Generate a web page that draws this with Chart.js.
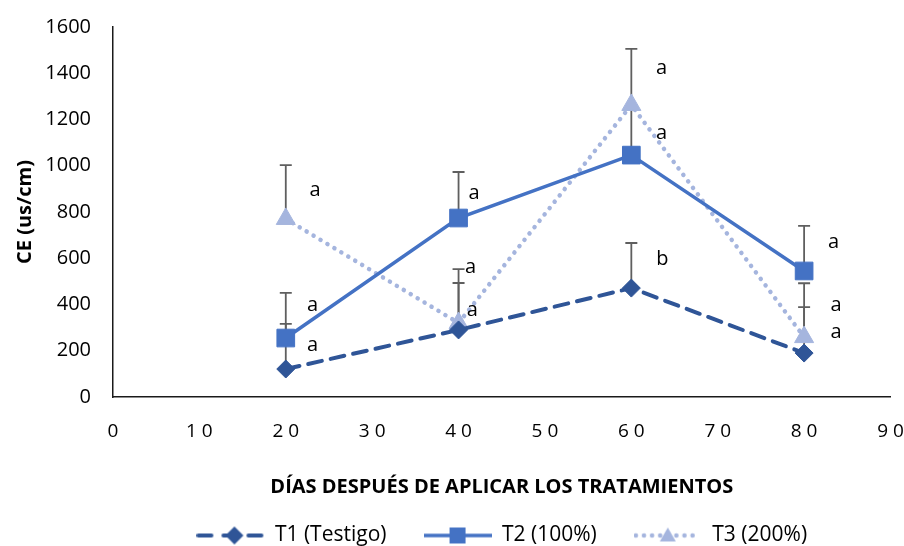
<!DOCTYPE html>
<html>
<head>
<meta charset="utf-8">
<script src="https://cdn.jsdelivr.net/npm/chart.js@4.4.0/dist/chart.umd.min.js"></script>
<style>
  html, body { margin: 0; padding: 0; background: #fff; overflow: hidden; }
  #wrap { width: 904px; height: 546px; overflow: hidden; }
</style>
</head>
<body>
<div id="wrap"><canvas id="ceChart" width="904" height="556"></canvas></div>
<script>
// days after treatment
const days = [20, 40, 60, 80];

// CE (us/cm) per treatment
const t1Values = [121, 290, 471, 190];
const t2Values = [255, 774, 1046, 545];
const t3Values = [770, 320, 1263, 259];

// upper error bars
const t1Errors = [195, 203, 195, 199];
const t2Errors = [195, 199, 200, 195];
const t3Errors = [233, 233, 242, 233];

const seriesNames = ['T1 (Testigo)', 'T2 (100%)', 'T3 (200%)'];

// significance letters (text, day, CE)
const letterText = ['a', 'a', 'a', 'a', 'a', 'a', 'a', 'a', 'b', 'a', 'a', 'a'];
const letterDay  = [23.4, 23.1, 23.1, 41.8, 41.4, 41.6, 63.5, 63.5, 63.6, 83.4, 83.7, 83.7];
const letterCE   = [895, 398, 225, 882, 562, 376, 1423, 1142, 597, 670, 398, 281];

const xTicks = [0, 10, 20, 30, 40, 50, 60, 70, 80, 90];

const FONT = "'Open Sans', sans-serif";
const colors = ['#2F5597', '#4472C4', '#A5B5DE'];
const dashes = [[14, 9], [], [0.1, 8]];
const widths = [4, 3.5, 4.5];
const markers = ['rectRot', 'rect', 'triangle'];
const markerSize = [9, 12.5, 11];

const allValues = [t1Values, t2Values, t3Values];
const allErrors = [t1Errors, t2Errors, t3Errors];

// small canvas with line + marker for the legend
function legendSample(i) {
  const c = document.createElement('canvas');
  c.width = 68; c.height = 24;
  const g = c.getContext('2d');
  g.strokeStyle = colors[i];
  g.lineWidth = widths[i];
  g.lineCap = i === 1 ? 'butt' : 'round';
  g.setLineDash(i === 0 ? [13, 12] : dashes[i]);
  g.beginPath(); g.moveTo(i === 1 ? 0 : 2, 12); g.lineTo(i === 1 ? 68 : 66, 12); g.stroke();
  g.setLineDash([]);
  g.fillStyle = colors[i];
  g.beginPath();
  if (i === 0) {
    g.moveTo(38, 3); g.lineTo(47, 12); g.lineTo(38, 21); g.lineTo(29, 12);
  } else if (i === 1) {
    g.rect(26, 4, 16, 16);
  } else {
    g.moveTo(34, 4); g.lineTo(42, 18); g.lineTo(26, 18);
  }
  g.closePath(); g.fill();
  return c;
}

const errorBars = {
  id: 'errorBars',
  beforeDatasetsDraw(chart) {
    const {ctx, scales: {x, y}} = chart;
    ctx.save();
    ctx.strokeStyle = '#5f5f5f';
    ctx.lineWidth = 1.8;
    allErrors.forEach((errs, i) => {
      days.forEach((d, j) => {
        const px = x.getPixelForValue(d);
        const y0 = y.getPixelForValue(allValues[i][j]);
        const y1 = y.getPixelForValue(allValues[i][j] + errs[j]);
        ctx.beginPath();
        ctx.moveTo(px, y0); ctx.lineTo(px, y1);
        ctx.moveTo(px - 6, y1); ctx.lineTo(px + 6, y1);
        ctx.stroke();
      });
    });
    ctx.restore();
  }
};

const letters = {
  id: 'letters',
  afterDatasetsDraw(chart) {
    const {ctx, scales: {x, y}} = chart;
    ctx.save();
    ctx.fillStyle = '#000';
    ctx.font = '20px ' + FONT;
    ctx.textAlign = 'center';
    ctx.textBaseline = 'middle';
    letterText.forEach((t, k) => {
      ctx.fillText(t, x.getPixelForValue(letterDay[k]), y.getPixelForValue(letterCE[k]));
    });
    ctx.restore();
  }
};

const datasets = allValues.map((vals, i) => ({
  label: seriesNames[i],
  data: days.map((d, j) => ({x: d, y: vals[j]})),
  borderColor: colors[i],
  backgroundColor: colors[i],
  borderWidth: widths[i],
  borderDash: dashes[i],
  borderCapStyle: i === 1 ? 'butt' : 'round',
  pointStyle: markers[i],
  pointRadius: markerSize[i],
  pointHoverRadius: markerSize[i],
  pointBorderWidth: 1,
  pointBorderColor: colors[i],
  pointBackgroundColor: colors[i],
  tension: 0,
  fill: false
}));

const samples = [0, 1, 2].map(legendSample);

new Chart(document.getElementById('ceChart'), {
  type: 'line',
  data: { datasets: datasets },
  options: {
    responsive: false,
    animation: false,
    layout: { padding: { left: 0, right: 0, top: 27, bottom: 0 } },
    plugins: {
      tooltip: { enabled: false },
      legend: {
        position: 'bottom',
        fullSize: false,
        labels: {
          usePointStyle: true,
          pointStyleWidth: 68,
          padding: 37,
          color: '#000',
          font: { family: FONT, size: 21 },
          generateLabels: () => seriesNames.map((n, i) => ({
            text: n, pointStyle: samples[i], fillStyle: colors[i],
            strokeStyle: colors[i], lineWidth: 0, hidden: false, datasetIndex: i
          }))
        }
      }
    },
    scales: {
      x: {
        type: 'linear', min: 0, max: 90,
        afterBuildTicks: s => { s.ticks = xTicks.map(v => ({value: v})); },
        afterFit: s => { s.height = 91; },
        grid: { display: false, drawTicks: true, tickLength: 23, tickColor: 'rgba(0,0,0,0)' },
        border: { display: true, color: '#1a1a1a', width: 1.5 },
        ticks: {
          padding: 0, color: '#000',
          font: { family: FONT, size: 19 },
          callback: v => String(v).split('').join(' ')
        },
        title: {
          display: true, text: 'DÍAS DESPUÉS DE APLICAR LOS TRATAMIENTOS',
          color: '#000', font: { family: FONT, size: 20, weight: 'bold' },
          padding: { top: 0, bottom: -11 }
        }
      },
      y: {
        min: 0, max: 1600,
        afterFit: s => { s.width = 113; },
        grid: { display: false, drawTicks: true, tickLength: 22, tickColor: 'rgba(0,0,0,0)' },
        border: { display: true, color: '#1a1a1a', width: 1.5 },
        ticks: {
          stepSize: 200, padding: 0, color: '#000',
          font: { family: FONT, size: 20 },
          callback: v => String(v)
        },
        title: {
          display: true, text: 'CE (us/cm)',
          color: '#000', font: { family: FONT, size: 20, weight: 'bold' },
          padding: { top: 13, bottom: 0 }
        }
      }
    }
  },
  plugins: [errorBars, letters]
});
</script>
</body>
</html>
